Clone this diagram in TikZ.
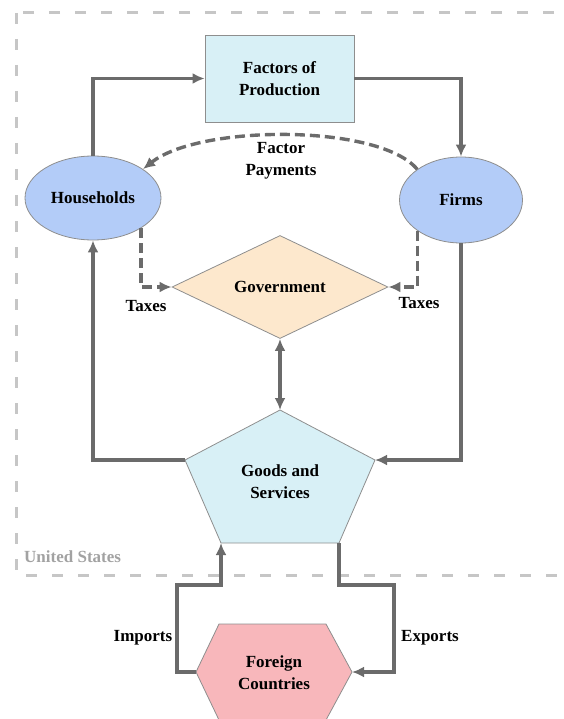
\documentclass[tikz,border=0pt]{standalone}
\usepackage{fontspec}
\setmainfont{Liberation Serif}
\usetikzlibrary{positioning,shapes.geometric,arrows.meta}
\definecolor{flowgray}{HTML}{6B6B6B}
\definecolor{edgegray}{HTML}{8E8E8E}
\definecolor{bordergray}{HTML}{C6C6C6}
\definecolor{boxcyan}{HTML}{D8F0F6}
\definecolor{ovalblue}{HTML}{B3CCF8}
\definecolor{govtan}{HTML}{FDE8CD}
\definecolor{foreignpink}{HTML}{F8B7BB}
\definecolor{labelgray}{HTML}{A2A2A2}

\begin{document}
\begin{tikzpicture}[x=1pt,y=-1pt,>={Latex[length=12pt,width=11pt]},
        font=\fontsize{17}{22}\selectfont\bfseries,
        flow/.style={->,draw=flowgray,line width=3.4pt},
        flowdash/.style={flow,dash pattern=on 10pt off 5pt},
        oval/.style={draw=edgegray,line width=0.8pt,fill=ovalblue,ellipse,inner sep=0pt},
        shapeline/.style={draw=edgegray,line width=0.8pt},
        lbl/.style={align=center,inner sep=0pt}]
        \useasboundingbox (0,0) rectangle (563,719);
        \draw[bordergray,line width=3pt,dash pattern=on 11pt off 15pt] (16,13) rectangle (620,575);
        \node[lbl,text=labelgray,anchor=west] (us) at (24,557) {United States};

        \node[shapeline,fill=boxcyan,lbl,minimum width=149pt,minimum height=87pt] (factors) at (279.5,78.5) {Factors of\\Production};
        \node[oval,minimum width=136pt,minimum height=84pt] (households) at (93,198) {Households};
        \node[oval,minimum width=123pt,minimum height=86pt] (firms) at (461,200) {Firms};
        \node[shapeline,fill=govtan,diamond,inner sep=0pt,minimum width=216pt,minimum height=101pt] (gov) at (280,287) {Government};

        % goods and services pentagon
        \coordinate (gn) at (280,410);
        \coordinate (gne) at (375,460);
        \coordinate (gse) at (339,543);
        \coordinate (gsw) at (221,543);
        \coordinate (gnw) at (185,460);
        \filldraw[shapeline,fill=boxcyan] (gn) -- (gne) -- (gse) -- (gsw) -- (gnw) -- cycle;
        \node[lbl] (goods) at (280,482) {Goods and\\Services};

        % foreign countries hexagon
        \coordinate (fw) at (196,672);
        \coordinate (fnw) at (219,624);
        \coordinate (fne) at (326,624);
        \coordinate (fe) at (352,672);
        \coordinate (fse) at (326,720);
        \coordinate (fsw) at (219,720);
        \filldraw[shapeline,fill=foreignpink] (fw) -- (fnw) -- (fne) -- (fe) -- (fse) -- (fsw) -- cycle;
        \node[lbl] (foreign) at (274,673) {Foreign\\Countries};

        \draw[flow] (households.north) |- (factors.west);
        \draw[flow] (factors.east) -| (firms.north);
        \draw[flowdash] (firms.145) .. controls (380,124) and (200,124) .. (households.30);
        \node[lbl] (payments) at (281,161) {Factor\\Payments};

        \draw[flowdash] (households.-32) |- (gov.west);
        \draw[flowdash] (firms.-145) |- (gov.east);
        \node[lbl] (taxl) at (146,306) {Taxes};
        \node[lbl] (taxr) at (419,303) {Taxes};

        \draw[flow,<->] (gov.south) -- (gn);
        \draw[flow] (gnw) -| (households.south);
        \draw[flow] (firms.south) |- (gne);

        \coordinate (impbend) at (177,585);
        \coordinate (expbend) at (394,585);
        \draw[flow] (fw) -| (impbend) -| (gsw);
        \draw[flow] (gse) |- (expbend) |- (fe);
        \node[lbl] (imports) at (143,638) {Imports};
        \node[lbl] (exports) at (430,638) {Exports};
    \end{tikzpicture}
\end{document}
